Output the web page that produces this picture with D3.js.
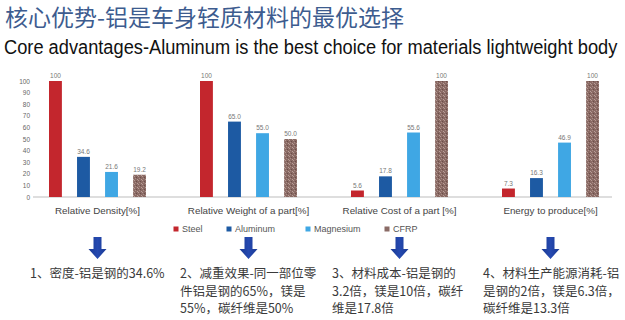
<!DOCTYPE html>
<html>
<head>
<meta charset="utf-8">
<script src="https://cdn.jsdelivr.net/npm/d3@7"></script>
<style>
  body { margin: 0; background: #fff; }
  svg { display: block; }
</style>
</head>
<body>
<div id="chart-area"></div>
<script>
// data
const groups = ["Relative Density[%]", "Relative Weight of a part[%]", "Relative Cost of a part [%]", "Energy to produce[%]"]
const materials = ["Steel", "Aluminum", "Magnesium", "CFRP"]
const steel     = [100, 100, 5.6, 7.3]
const aluminum  = [34.6, 65.0, 17.8, 16.3]
const magnesium = [21.6, 55.0, 55.6, 46.9]
const cfrp      = [19.2, 50.0, 100, 100]
const labels = {
    Steel:     ["100", "100", "5.6", "7.3"],
    Aluminum:  ["34.6", "65.0", "17.8", "16.3"],
    Magnesium: ["21.6", "55.0", "55.6", "46.9"],
    CFRP:      ["19.2", "50.0", "100", "100"]
}
const yTicks = [0, 10, 20, 30, 40, 50, 60, 70, 80, 90, 100]
const notes = [
    ["1、密度-铝是钢的34.6%"],
    ["2、减重效果-同一部位零", "件铝是钢的65%，镁是", "55%，碳纤维是50%"],
    ["3、材料成本-铝是钢的", "3.2倍，镁是10倍，碳纤", "维是17.8倍"],
    ["4、材料生产能源消耗-铝", "是钢的2倍，镁是6.3倍，", "碳纤维是13.3倍"]
]

const seriesValues = { Steel: steel, Aluminum: aluminum, Magnesium: magnesium, CFRP: cfrp }
const colors = { Steel: "#c3262d", Aluminum: "#1d5aa3", Magnesium: "#3fa7e4", CFRP: "url(#cfrp)" }
const legendColors = { Steel: "#c3262d", Aluminum: "#1d5aa3", Magnesium: "#3fa7e4", CFRP: "#8a6b66" }

const W = 625, H = 320
const svg = d3.select("#chart-area").append("svg")
    .attr("width", W)
    .attr("height", H)

// speckled fill for the CFRP bars
const defs = svg.append("defs")
const pat = defs.append("pattern")
    .attr("id", "cfrp")
    .attr("patternUnits", "userSpaceOnUse")
    .attr("width", 4).attr("height", 4)
pat.append("rect").attr("width", 4).attr("height", 4).attr("fill", "#8a6a64")
pat.append("rect").attr("x", 0).attr("y", 0).attr("width", 1).attr("height", 1).attr("fill", "#b59a94")
pat.append("rect").attr("x", 2).attr("y", 1).attr("width", 1).attr("height", 1).attr("fill", "#6a4e4a")
pat.append("rect").attr("x", 1).attr("y", 2).attr("width", 1).attr("height", 1).attr("fill", "#a88c86")
pat.append("rect").attr("x", 3).attr("y", 3).attr("width", 1).attr("height", 1).attr("fill", "#b8a09a")

// titles
svg.append("text")
    .attr("x", 5).attr("y", 26)
    .attr("font-family", "'Noto Sans CJK SC', sans-serif")
    .attr("font-size", 23)
    .attr("fill", "#3d5c8f")
    .text("核心优势-铝是车身轻质材料的最优选择")

// subtitle is a narrow face in the original: squeeze it horizontally to fit
const sub = svg.append("text")
    .attr("x", 0).attr("y", 0)
    .attr("font-family", "'Liberation Sans Narrow', 'Liberation Sans', Arial, sans-serif")
    .attr("font-size", 21)
    .attr("fill", "#111")
    .text("Core advantages-Aluminum is the best choice for materials lightweight body")
const subLen = sub.node().getComputedTextLength()
const subScale = Math.min(1, 614 / subLen)
sub.attr("transform", `translate(4,54) scale(${subScale},1)`)

// scales
const x0 = d3.scaleBand()
    .domain(groups)
    .range([22, 626])

const x1 = d3.scaleBand()
    .domain(materials)
    .range([27, 124])
    .paddingInner(0.54)
    .paddingOuter(0)

const y = d3.scaleLinear()
    .domain([0, 100])
    .range([197, 81])

// y axis, labels only
const yAxis = d3.axisLeft(y)
    .tickValues(yTicks)
    .tickSize(0)
    .tickPadding(0)

const yg = svg.append("g")
    .attr("transform", "translate(30,0)")
    .call(yAxis)
yg.select(".domain").remove()
yg.selectAll("text")
    .attr("font-family", "'Liberation Sans', Arial, sans-serif")
    .attr("font-size", 6.5)
    .attr("fill", "#666")

// baseline
svg.append("line")
    .attr("x1", 33).attr("x2", 612)
    .attr("y1", y(0)).attr("y2", y(0))
    .attr("stroke", "#bdbdbd")
    .attr("stroke-width", 1)

// bars
const gGroups = svg.selectAll(".grp")
    .data(groups)
    .enter().append("g")
    .attr("class", "grp")
    .attr("transform", d => `translate(${x0(d)},0)`)

gGroups.selectAll("rect")
    .data((d, i) => materials.map(m => ({ m, v: seriesValues[m][i], lab: labels[m][i] })))
    .enter().append("rect")
    .attr("x", d => x1(d.m))
    .attr("y", d => y(d.v))
    .attr("width", x1.bandwidth())
    .attr("height", d => y(0) - y(d.v))
    .attr("fill", d => colors[d.m])

gGroups.selectAll(".val")
    .data((d, i) => materials.map(m => ({ m, v: seriesValues[m][i], lab: labels[m][i] })))
    .enter().append("text")
    .attr("class", "val")
    .attr("x", d => x1(d.m) + x1.bandwidth() / 2)
    .attr("y", d => y(d.v) - 3)
    .attr("text-anchor", "middle")
    .attr("font-family", "'Liberation Sans', Arial, sans-serif")
    .attr("font-size", 6.5)
    .attr("fill", "#777")
    .text(d => d.lab)

// category labels
svg.selectAll(".cat")
    .data(groups)
    .enter().append("text")
    .attr("class", "cat")
    .attr("x", d => x0(d) + x0.bandwidth() / 2)
    .attr("y", 214)
    .attr("text-anchor", "middle")
    .attr("font-family", "'Liberation Sans', Arial, sans-serif")
    .attr("font-size", 9.8)
    .attr("fill", "#444")
    .text(d => d)

// legend
const legendX = [176, 229, 308, 387]
const leg = svg.selectAll(".leg")
    .data(materials)
    .enter().append("g")
    .attr("class", "leg")
    .attr("transform", (d, i) => `translate(${legendX[i]},229)`)
leg.append("rect")
    .attr("x", -2.5).attr("y", -2.5)
    .attr("width", 5).attr("height", 5)
    .attr("fill", d => legendColors[d])
leg.append("text")
    .attr("x", 6).attr("y", 3.2)
    .attr("font-family", "'Liberation Sans', Arial, sans-serif")
    .attr("font-size", 9)
    .attr("fill", "#555")
    .text(d => d)

// arrows
const arrowGrad = defs.append("linearGradient")
    .attr("id", "arrowGrad")
    .attr("x1", 0).attr("x2", 1).attr("y1", 0).attr("y2", 0)
arrowGrad.append("stop").attr("offset", "0%").attr("stop-color", "#1a3a94")
arrowGrad.append("stop").attr("offset", "50%").attr("stop-color", "#2549b0")
arrowGrad.append("stop").attr("offset", "100%").attr("stop-color", "#1a3a94")

svg.selectAll(".arrow")
    .data(groups)
    .enter().append("path")
    .attr("class", "arrow")
    .attr("transform", d => `translate(${x0(d) + x0.bandwidth() / 2},0)`)
    .attr("d", "M-4,237 L4,237 L4,249 L9,249 L0,259 L-9,249 L-4,249 Z")
    .attr("fill", "url(#arrowGrad)")

// notes under the arrows
const noteX = [30, 180, 332, 483]
const noteG = svg.selectAll(".note")
    .data(notes)
    .enter().append("text")
    .attr("class", "note")
    .attr("font-family", "'Noto Sans CJK SC', sans-serif")
    .attr("font-size", 12.5)
    .attr("fill", "#3a3a3a")
noteG.selectAll("tspan")
    .data((d, i) => d.map(line => ({ line, i })))
    .enter().append("tspan")
    .attr("x", d => noteX[d.i])
    .attr("y", (d, j) => 278 + j * 17.5)
    .text(d => d.line)
</script>
</body>
</html>
